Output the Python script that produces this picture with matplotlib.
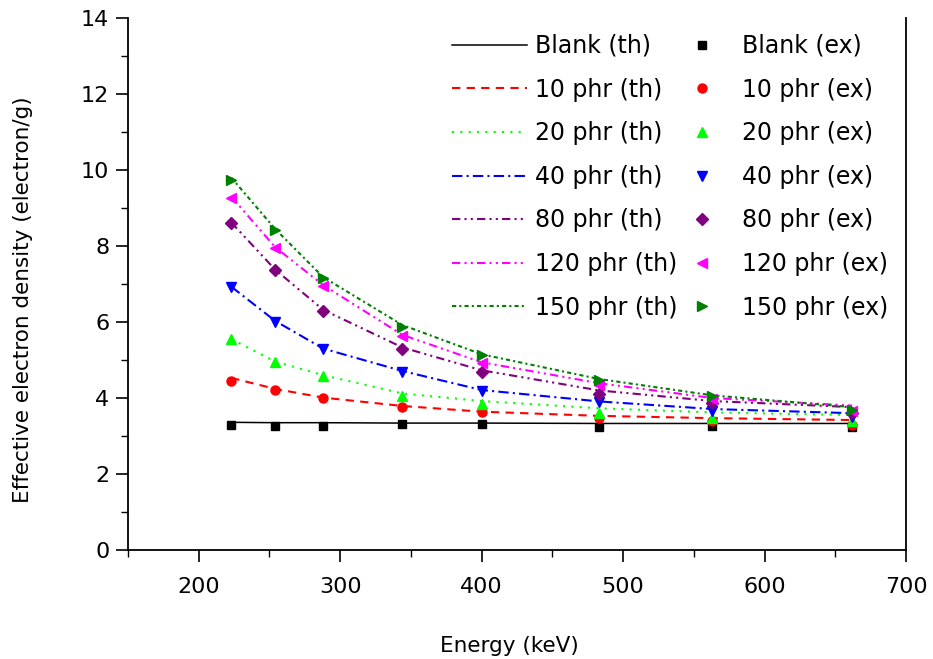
import matplotlib
matplotlib.use("Agg")
import matplotlib.pyplot as plt
from matplotlib.ticker import MultipleLocator

plt.rcParams['font.family'] = ['DejaVu Sans']

# 能量 (keV)
energy = [223, 254, 288, 344, 400, 483, 563, 662]

# 理论值 (th)
blank_th = [3.36, 3.35, 3.35, 3.34, 3.34, 3.33, 3.33, 3.33]
p10_th = [4.53, 4.24, 4.01, 3.79, 3.64, 3.53, 3.47, 3.42]
p20_th = [5.55, 4.96, 4.60, 4.12, 3.92, 3.73, 3.62, 3.55]
p40_th = [6.93, 6.03, 5.30, 4.71, 4.21, 3.91, 3.71, 3.60]
p80_th = [8.62, 7.38, 6.32, 5.33, 4.73, 4.20, 3.92, 3.76]
p120_th = [9.30, 7.97, 6.97, 5.66, 4.94, 4.39, 4.00, 3.80]
p150_th = [9.80, 8.45, 7.18, 5.92, 5.15, 4.50, 4.07, 3.76]

# 实验值 (ex)
blank_ex = [3.29, 3.26, 3.27, 3.32, 3.32, 3.23, 3.27, 3.23]
p10_ex = [4.45, 4.21, 3.99, 3.77, 3.62, 3.47, 3.40, 3.29]
p20_ex = [5.54, 4.94, 4.57, 4.06, 3.84, 3.60, 3.48, 3.40]
p40_ex = [6.91, 6.01, 5.28, 4.69, 4.19, 3.89, 3.67, 3.51]
p80_ex = [8.61, 7.37, 6.30, 5.29, 4.69, 4.11, 3.86, 3.61]
p120_ex = [9.25, 7.94, 6.95, 5.63, 4.91, 4.34, 3.97, 3.65]
p150_ex = [9.74, 8.42, 7.15, 5.88, 5.13, 4.47, 4.04, 3.68]

names = ["Blank", "10 phr", "20 phr", "40 phr", "80 phr", "120 phr", "150 phr"]
th_data = [blank_th, p10_th, p20_th, p40_th, p80_th, p120_th, p150_th]
ex_data = [blank_ex, p10_ex, p20_ex, p40_ex, p80_ex, p120_ex, p150_ex]

colors = ["black", "#ff0000", "#00ff00", "#0000ff", "#800080", "#ff00ff", "#008000"]
styles = ["-", (0, (4, 3)), (0, (1, 3)), (0, (5, 2, 1, 2)),
          (0, (4, 2, 1, 2, 1, 2)), (0, (4, 2, 1, 2, 1, 2)), (0, (2, 1.5, 1, 1.5))]
markers = ["s", "o", "^", "v", "D", "<", ">"]

fig = plt.figure(figsize=(9.33, 6.59), dpi=100)
ax = fig.add_axes([0.1372, 0.1654, 0.8338, 0.8073])

th_handles = []
ex_handles = []
for i in range(len(names)):
    lw = 1.1 if i == 0 else 1.5
    l, = ax.plot(energy, th_data[i], color=colors[i], linestyle=styles[i], lw=lw,
                 label=names[i] + " (th)")
    th_handles.append(l)
for i in range(len(names)):
    ms = 6 if markers[i] in ["s", "D"] else 6.5
    m, = ax.plot(energy, ex_data[i], color=colors[i], marker=markers[i], ms=ms,
                 linestyle="none", label=names[i] + " (ex)")
    ex_handles.append(m)

ax.set_xlim(150, 700)
ax.set_ylim(0, 14)
ax.xaxis.set_major_locator(MultipleLocator(100))
ax.xaxis.set_minor_locator(MultipleLocator(50))
ax.yaxis.set_major_locator(MultipleLocator(2))
ax.yaxis.set_minor_locator(MultipleLocator(1))
ax.spines["top"].set_visible(False)
for s in ["left", "bottom", "right"]:
    ax.spines[s].set_linewidth(1.3)
ax.tick_params(which="major", direction="out", length=8.5, width=1.2, labelsize=16)
ax.tick_params(which="minor", direction="out", length=5, width=1.0)
ax.tick_params(axis="x", which="major", pad=11)
ax.tick_params(axis="y", which="major", pad=5)
ax.tick_params(axis="y", right=False, which="both")

ax.set_xlabel("Energy (keV)", fontsize=15.5)
ax.set_ylabel("Effective electron density (electron/g)", fontsize=15.5)
ax.xaxis.set_label_coords(0.49, -0.162)
ax.yaxis.set_label_coords(-0.122, 0.47)

fig.legend(handles=th_handles, loc="upper left", bbox_to_anchor=(452 / 933, 1 - 34 / 659),
           frameon=False, fontsize=17, handlelength=3.18, handletextpad=0.34,
           labelspacing=0.83, borderpad=0, borderaxespad=0)
fig.legend(handles=ex_handles, loc="upper left", bbox_to_anchor=(690 / 933, 1 - 34 / 659),
           frameon=False, fontsize=17, handlelength=1.0, handletextpad=1.2,
           labelspacing=0.83, borderpad=0, borderaxespad=0, numpoints=1)

fig.savefig("out.png", dpi=100)
